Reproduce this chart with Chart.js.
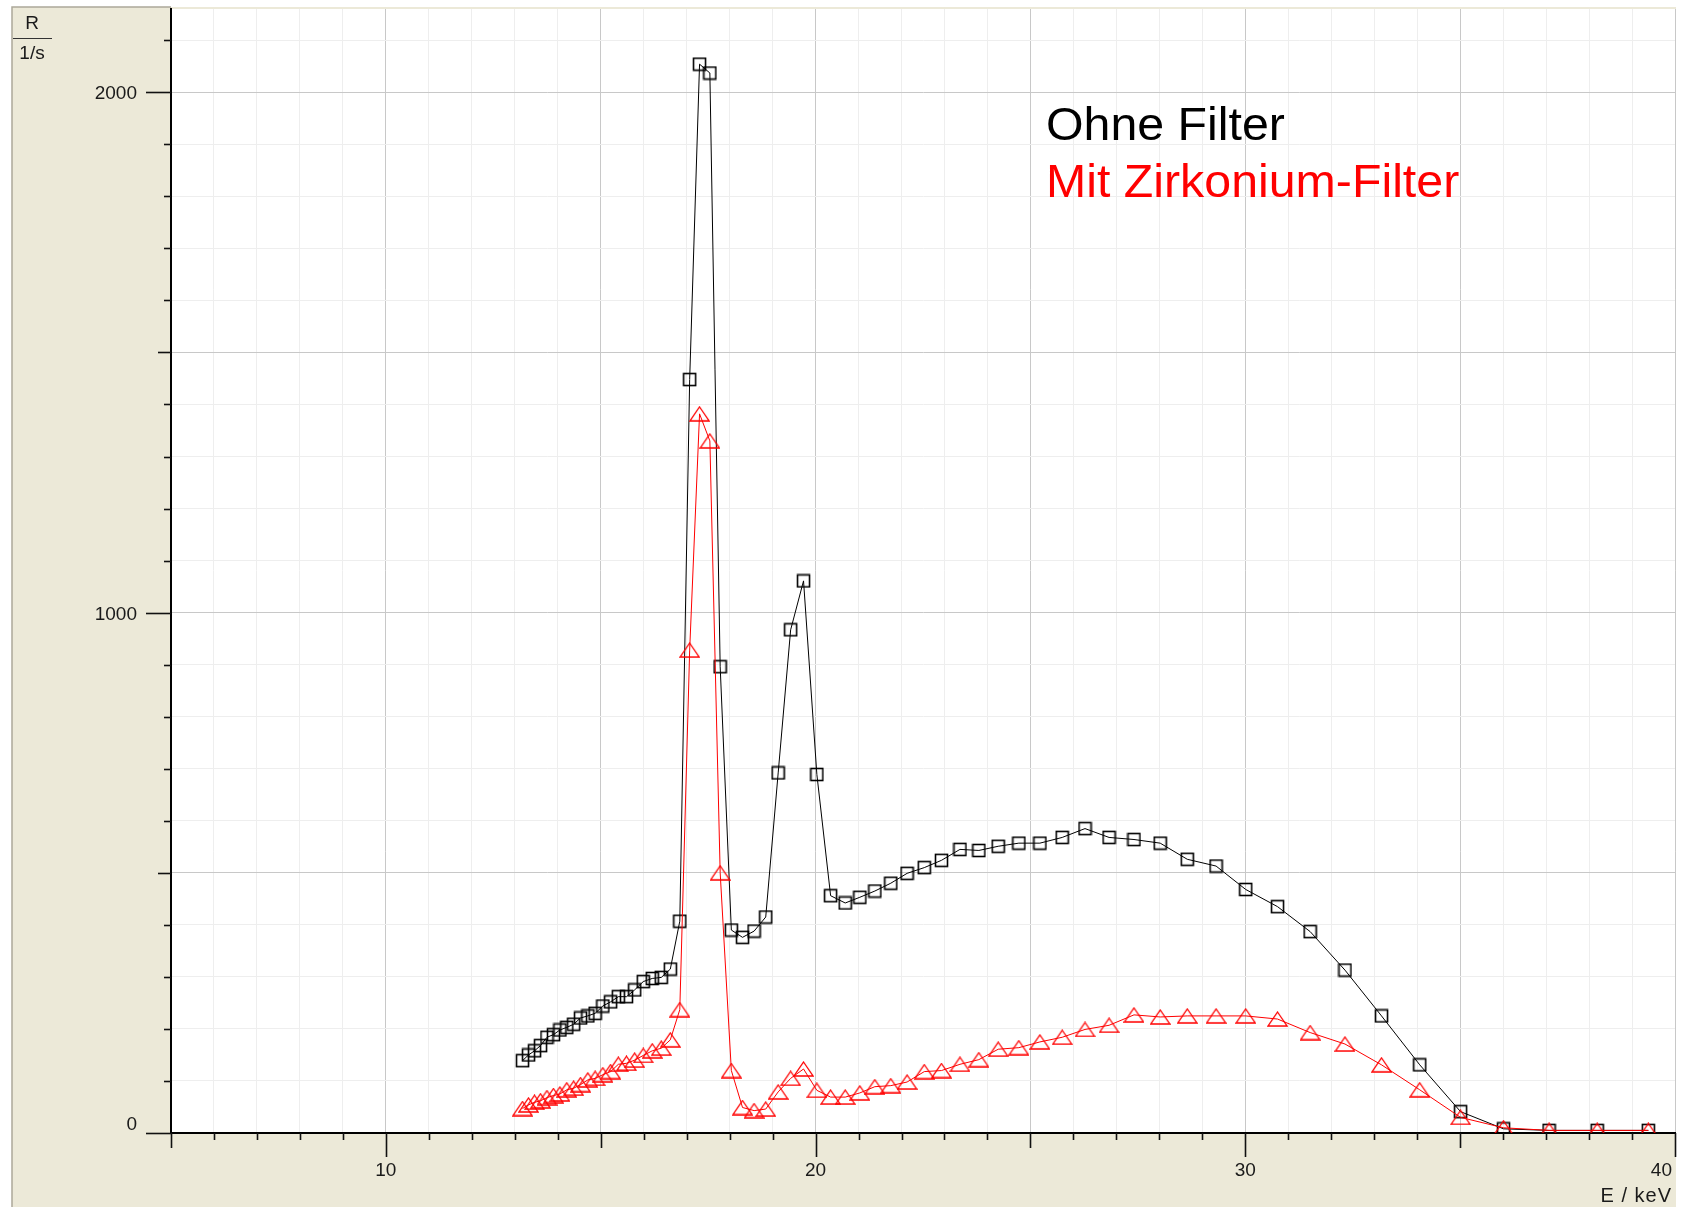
<!DOCTYPE html>
<html>
<head>
<meta charset="utf-8">
<title>Röntgenspektrum ohne und mit Zirkonium-Filter</title>
<script src="https://cdn.jsdelivr.net/npm/chart.js@4.4.1/dist/chart.umd.min.js"></script>
<style>
  html, body { margin: 0; padding: 0; background: #fff; }
</style>
</head>
<body>
<canvas id="spektrum" width="1687" height="1207"></canvas>
<script>
// Messpunkte: Energie in keV
const energie = [
  13.18, 13.32, 13.46, 13.60, 13.75, 13.90, 14.05, 14.21, 14.37, 14.53, 14.70, 14.87,
  15.05, 15.23, 15.41, 15.60, 15.79, 15.99, 16.20, 16.41, 16.62, 16.84,
  17.07, 17.30, 17.54, 17.78, 18.04, 18.30, 18.57, 18.84, 19.13, 19.42,
  19.72, 20.03, 20.35, 20.69, 21.03, 21.38, 21.75, 22.13, 22.53, 22.93,
  23.36, 23.80, 24.25, 24.73, 25.22, 25.74, 26.27, 26.83, 27.41, 28.02,
  28.65, 29.32, 30.01, 30.75, 31.51, 32.32, 33.17, 34.06, 35.01, 36.01,
  37.07, 38.19, 39.38
];

// Zählrate R in 1/s
const ohneFilter = [
  139, 150, 158, 168, 184, 189, 198, 203, 209, 221, 225, 230,
  244, 252, 262, 262, 275, 291, 297, 299, 315, 407,
  1448, 2054, 2037, 896, 390, 376, 388, 415, 692, 967,
  1061, 689, 456, 442, 453, 465, 480, 499, 510, 524,
  545, 543, 551, 557, 557, 568, 585, 568, 564, 557,
  526, 513, 468, 435, 387, 313, 225, 131, 41, 8,
  5, 5, 5
];

const mitZirkonium = [
  47, 54, 59, 62, 68, 72, 75, 83, 86, 93, 102, 105,
  112, 118, 132, 134, 140, 149, 158, 163, 179, 237,
  928, 1382, 1330, 500, 120, 49, 43, 46, 79, 105,
  123, 82, 69, 69, 77, 89, 91, 98, 118, 120,
  132, 141, 161, 164, 175, 184, 199, 207, 227, 223,
  225, 225, 225, 219, 193, 171, 131, 83, 30, 10,
  5, 5, 5
];

const reihenNamen = ["Ohne Filter", "Mit Zirkonium-Filter"];
const reihenFarben = ["#000000", "#ff0000"];
const xBeschriftung = [10, 20, 30, 40];
const yBeschriftung = [0, 1000, 2000];

function punkte(werte) {
  return energie.map((e, i) => ({ x: e, y: werte[i] }));
}

function quadrat(farbe) {
  const c = document.createElement("canvas");
  c.width = 15; c.height = 15;
  const g = c.getContext("2d");
  g.strokeStyle = farbe;
  g.lineWidth = 1.6;
  g.strokeRect(1.5, 1.5, 12, 12);
  return c;
}

function dreieck(farbe) {
  const c = document.createElement("canvas");
  c.width = 21; c.height = 16;
  const g = c.getContext("2d");
  g.strokeStyle = farbe;
  g.lineWidth = 1.3;
  g.beginPath();
  g.moveTo(10.5, 1);
  g.lineTo(20, 15);
  g.lineTo(1, 15);
  g.closePath();
  g.stroke();
  return c;
}

const schrift = '19px "Liberation Sans", Arial, sans-serif';

const rahmen = {
  id: "rahmen",
  beforeDraw(chart) {
    const { ctx, chartArea: a } = chart;
    ctx.save();
    ctx.fillStyle = "#ffffff";
    ctx.fillRect(0, 0, chart.width, chart.height);
    ctx.fillStyle = "#ece9d8";
    ctx.fillRect(12, 7, a.right + 1 - 12, chart.height - 7);
    ctx.fillStyle = "#ffffff";
    ctx.fillRect(a.left, a.top, a.right - a.left, a.bottom - a.top);
    ctx.strokeStyle = "#aca899";
    ctx.lineWidth = 1.5;
    ctx.beginPath();
    ctx.moveTo(12, chart.height);
    ctx.lineTo(12, 7);
    ctx.lineTo(a.left, 7);
    ctx.stroke();
    ctx.restore();
  },
  afterDraw(chart) {
    const { ctx, chartArea: a } = chart;
    const xs = chart.scales.x, ys = chart.scales.y;
    ctx.save();
    ctx.strokeStyle = "#111";
    ctx.lineWidth = 1.6;

    // Teilstriche x
    xs.ticks.forEach(t => {
      const px = Math.round(xs.getPixelForValue(t.value)) + 0.5;
      const len = t.value % 10 === 0 ? 24 : (t.value % 5 === 0 ? 15 : 7);
      ctx.beginPath();
      ctx.moveTo(px, a.bottom);
      ctx.lineTo(px, a.bottom + len);
      ctx.stroke();
    });
    // Teilstriche y
    ys.ticks.forEach(t => {
      const py = Math.round(ys.getPixelForValue(t.value)) + 0.5;
      const len = t.value % 1000 === 0 ? 25 : (t.value % 500 === 0 ? 13 : 7);
      ctx.beginPath();
      ctx.moveTo(a.left, py);
      ctx.lineTo(a.left - len, py);
      ctx.stroke();
    });

    ctx.fillStyle = "#1a1a1a";
    ctx.font = schrift;
    ctx.textBaseline = "middle";

    xBeschriftung.forEach((v, i) => {
      const px = xs.getPixelForValue(v);
      const letzter = i === xBeschriftung.length - 1;
      ctx.textAlign = letzter ? "right" : "center";
      ctx.fillText(String(v), letzter ? px - 3 : px, a.bottom + 38);
    });
    ctx.textAlign = "right";
    yBeschriftung.forEach(v => {
      const py = ys.getPixelForValue(v);
      ctx.fillText(String(v), a.left - 34, v === 0 ? py - 8 : py + 2);
    });

    // Achsenbezeichnungen
    ctx.textAlign = "right";
    ctx.font = '20px "Liberation Sans", Arial, sans-serif';
    ctx.letterSpacing = "1px";
    ctx.fillText("E / keV", a.right - 3, a.bottom + 63);
    ctx.letterSpacing = "0px";
    ctx.font = schrift;
    ctx.textAlign = "center";
    ctx.fillText("R", 32, 24);
    ctx.fillText("1/s", 32, 54);
    ctx.lineWidth = 1.2;
    ctx.strokeStyle = "#333";
    ctx.beginPath();
    ctx.moveTo(13, 38.5);
    ctx.lineTo(52, 38.5);
    ctx.stroke();

    // Legende als Text
    ctx.textAlign = "left";
    ctx.textBaseline = "alphabetic";
    ctx.font = '46px "Liberation Sans", Arial, sans-serif';
    reihenNamen.forEach((name, i) => {
      ctx.save();
      ctx.translate(1046, 140 + i * 57);
      ctx.scale(1.05, 1);
      ctx.fillStyle = reihenFarben[i];
      ctx.fillText(name, 0, 0);
      ctx.restore();
    });
    ctx.restore();
  }
};

new Chart(document.getElementById("spektrum").getContext("2d"), {
  type: "line",
  data: {
    datasets: [
      {
        label: reihenNamen[0],
        data: punkte(ohneFilter),
        borderColor: reihenFarben[0],
        borderWidth: 1,
        pointStyle: quadrat(reihenFarben[0]),
        pointRadius: 7,
        tension: 0,
        clip: 0,
        order: 1,
      },
      {
        label: reihenNamen[1],
        data: punkte(mitZirkonium),
        borderColor: reihenFarben[1],
        borderWidth: 1,
        pointStyle: dreieck(reihenFarben[1]),
        pointRadius: 8,
        tension: 0,
        clip: 0,
        order: 0,
      },
    ],
  },
  options: {
    responsive: false,
    animation: false,
    events: [],
    layout: { padding: { left: 171, right: 12, top: 7, bottom: 74 } },
    plugins: {
      legend: { display: false },
      tooltip: { enabled: false },
    },
    scales: {
      x: {
        type: "linear",
        min: 5,
        max: 40,
        ticks: { stepSize: 1, display: false, includeBounds: false },
        grid: {
          drawTicks: false,
          color: c => (c.tick && c.tick.value % 5 === 0 ? "#c8c8c8" : "#eeeeee"),
        },
        border: { color: "#000", width: 2 },
      },
      y: {
        type: "linear",
        min: 0,
        max: 2160,
        ticks: { stepSize: 100, display: false, includeBounds: false },
        grid: {
          drawTicks: false,
          color: c => (c.tick && c.tick.value % 500 === 0 ? "#c8c8c8" : "#eeeeee"),
        },
        border: { color: "#000", width: 2 },
      },
    },
  },
  plugins: [rahmen],
});
</script>
</body>
</html>
